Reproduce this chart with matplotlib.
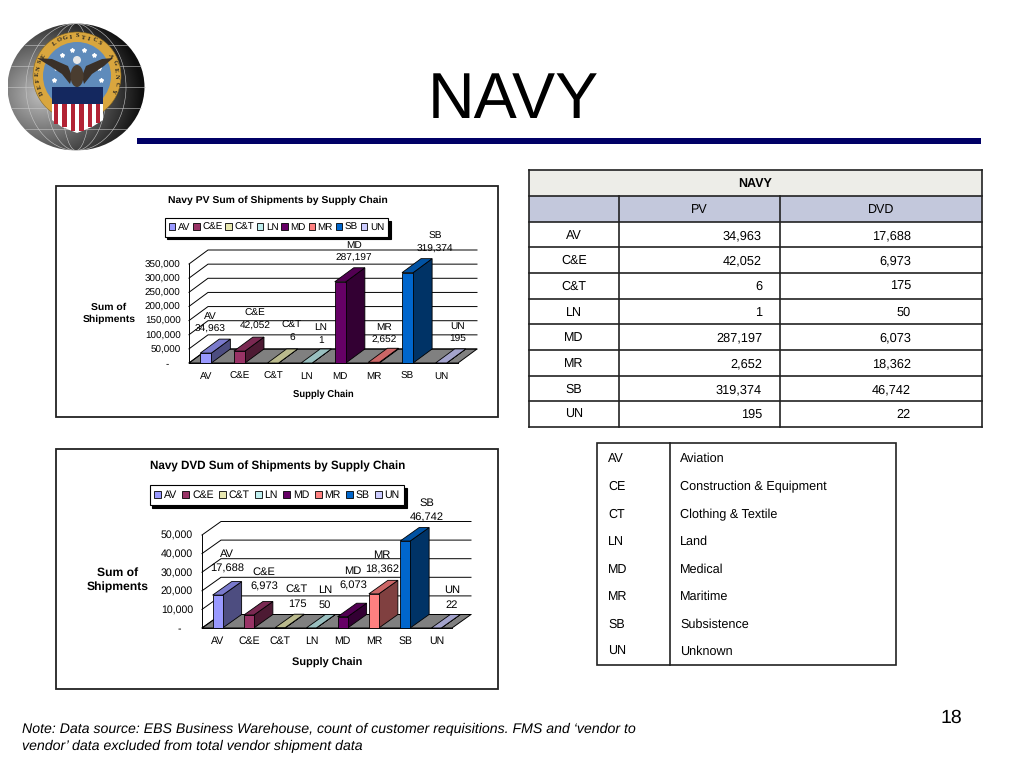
import numpy as np
import matplotlib
matplotlib.use("Agg")
import matplotlib.pyplot as plt
from matplotlib.colors import to_rgb
from matplotlib.patches import Circle, Ellipse, Polygon, Rectangle

plt.rcParams['font.family'] = ['Liberation Sans', 'DejaVu Sans']
plt.rcParams['text.hinting'] = 'no_hinting'

categories = ["AV", "C&E", "C&T", "LN", "MD", "MR", "SB", "UN"]
pv_values = [34963, 42052, 6, 1, 287197, 2652, 319374, 195]
dvd_values = [17688, 6973, 175, 50, 6073, 18362, 46742, 22]
pv_ticks = [0, 50000, 100000, 150000, 200000, 250000, 300000, 350000]
dvd_ticks = [0, 10000, 20000, 30000, 40000, 50000]
bar_colors = ["#9999FF", "#993366", "#E8E8B0", "#BFEFEF", "#660066", "#FF8080", "#0066CC", "#CCCCFF"]

legend_codes = ["AV", "CE", "CT", "LN", "MD", "MR", "SB", "UN"]
legend_names = ["Aviation", "Construction & Equipment", "Clothing & Textile", "Land",
                "Medical", "Maritime", "Subsistence", "Unknown"]

# label spots, in slide pixels
pv_label_xy = [(210, 316), (255, 313), (292, 325), (321, 327), (354, 245), (384, 327), (435, 236), (458, 326)]
dvd_label_xy = [(227, 554), (264, 572), (297, 589), (325, 590), (353, 571), (382, 555), (427, 503), (452, 590)]

fig = plt.figure(figsize=(10.24, 7.68), dpi=100)
slide = fig.add_axes([0, 0, 1, 1])
slide.set_axis_off()


def shade(color, k):
    return tuple(c * k for c in to_rgb(color))


def fmt(v):
    return f"{v:,}"


# The seal in the top left corner
def draw_logo():
    cx, cy, rx, ry = 76, 87, 68.5, 63.5
    yy, xx = np.mgrid[cy - ry:cy + ry + 1, cx - rx:cx + rx + 1]
    d = np.hypot(xx - (cx - 34), (yy - (cy + 8)) * 1.1) / (2 * rx)
    img = slide.imshow(np.clip(0.75 - 0.95 * d, 0.06, 1), cmap="gray", vmin=0, vmax=1, aspect="auto",
                       extent=(cx - rx, cx + rx, cy + ry, cy - ry), zorder=1)
    img.set_clip_path(Ellipse((cx, cy), 2 * rx, 2 * ry, transform=slide.transData))
    for w in [30, 62, 100]:
        slide.add_patch(Ellipse((cx, cy), w, 2 * ry, fc="none", ec="#c8c8c8", lw=0.4, zorder=2))
    for dy in [-42, -21, 0, 21, 42]:
        half = rx * np.sqrt(1 - (dy / ry) ** 2)
        slide.plot([cx - half, cx + half], [cy + dy, cy + dy], color="#c8c8c8", lw=0.4, zorder=2)

    sx, sy = 77, 76
    slide.add_patch(Circle((sx, sy), 44, fc="#D9A63E", ec="#8a6a20", lw=0.4, zorder=3))
    slide.add_patch(Circle((sx, sy), 34, fc="#5F8BBB", ec="none", zorder=4))
    for px, py in [(62, 55), (72, 50), (84, 50), (94, 55), (56, 68), (99, 68), (54, 80), (101, 80)]:
        slide.plot(px, py, marker="*", ms=3, color="white", zorder=5)

    # eagle
    slide.add_patch(Polygon([(37, 58), (52, 59), (68, 66), (72, 76), (70, 84), (62, 74), (50, 66)],
                            fc="#3a3028", ec="none", zorder=6))
    slide.add_patch(Polygon([(113, 58), (102, 59), (86, 66), (82, 76), (84, 84), (92, 74), (104, 66)],
                            fc="#3a3028", ec="none", zorder=6))
    slide.add_patch(Ellipse((77, 76), 13, 22, fc="#4a3d30", ec="none", zorder=6))
    slide.add_patch(Circle((77, 60), 4, fc="#e8e8e8", ec="none", zorder=7))

    # shield
    slide.add_patch(Rectangle((52, 87), 51, 17, fc="#14285F", ec="none", zorder=8))
    slide.add_patch(Polygon([(52, 104), (103, 104), (103, 120), (92, 127), (77, 133), (62, 127), (52, 120)],
                            fc="white", ec="none", zorder=8))
    for i in range(6):
        left = 54 + i * 8.4
        low = 133 - abs(left + 2.2 - 77) * 0.45
        slide.add_patch(Rectangle((left, 104), 4.4, low - 104, fc="#B22234", ec="none", zorder=9))

    # lettering round the ring
    for word, a0, a1 in [("DEFENSE", 205, 150), ("LOGISTICS", 125, 55), ("AGENCY", 30, -22)]:
        for ch, a in zip(word, np.linspace(a0, a1, len(word))):
            ang = np.radians(a)
            slide.text(sx + 39 * np.cos(ang), sy - 39 * np.sin(ang), ch, fontsize=4.6, weight="bold",
                       family="Liberation Serif", rotation=a - 90, ha="center", va="center",
                       color="#222222", zorder=10)


# One fake-3D column chart, the axes covers the front face of the plot
def draw_chart(frame, plot_box, depth_px, values, ticks, title, title_xy, label_xy, legend_xy,
               xlabel_xy, ylabel_xy, font, label_font, title_font, xlabel_font, ylabel_font, label_gap,
               bar_frac, tick_pad, x_pad, zero_pad, col_gap):
    fx0, fy0, fx1, fy1 = frame
    slide.add_patch(Rectangle((fx0, fy0), fx1 - fx0, fy1 - fy0, fc="white", ec="#222222", lw=1.3, zorder=1))
    slide.text(*title_xy, title, fontsize=title_font, weight="bold", ha="center", va="center", zorder=2)
    slide.text(*xlabel_xy, "Supply Chain", fontsize=xlabel_font, weight="bold", ha="center", va="center", zorder=2)
    slide.text(*ylabel_xy, "Sum of\nShipments", fontsize=ylabel_font, weight="bold", ha="center", va="center",
               linespacing=1.4, zorder=2)

    px0, py0, px1, py1 = plot_box
    ax = fig.add_axes([px0 / 1024, 1 - py1 / 768, (px1 - px0) / 1024, (py1 - py0) / 768])
    ax.patch.set_alpha(0)
    n = len(values)
    top = ticks[-1]
    ax.set_xlim(0, n)
    ax.set_ylim(0, top)
    dx = depth_px[0] / ((px1 - px0) / n)
    dy = depth_px[1] / (py1 - py0) * top

    # floor and wall
    ax.add_patch(Polygon([(0, 0), (n, 0), (n + dx, dy), (dx, dy)], fc="#808080", ec="black", lw=0.7,
                         clip_on=False, zorder=1))
    for t in ticks:
        ax.plot([0, dx, n + dx], [t, t + dy, t + dy], color="black", lw=0.7, clip_on=False, zorder=1)

    # bars, left to right
    for i, (v, col) in enumerate(zip(values, bar_colors)):
        x0 = i + 0.5 - bar_frac / 2
        x1 = i + 0.5 + bar_frac / 2
        ax.add_patch(Polygon([(x1, 0), (x1 + dx, dy), (x1 + dx, v + dy), (x1, v)], fc=shade(col, 0.5),
                             ec="black", lw=0.6, clip_on=False, zorder=3))
        ax.add_patch(Polygon([(x0, v), (x1, v), (x1 + dx, v + dy), (x0 + dx, v + dy)], fc=shade(col, 0.8),
                             ec="black", lw=0.6, clip_on=False, zorder=3))
        ax.bar(i + 0.5, v, width=bar_frac, color=col, edgecolor="black", linewidth=0.6, zorder=3, clip_on=False)

    ax.set_xticks(np.arange(n) + 0.5, categories)
    ax.set_yticks(ticks, [("-" + zero_pad) if t == 0 else fmt(t) for t in ticks])
    ax.tick_params(axis="x", length=0, pad=x_pad, labelsize=font)
    ax.tick_params(axis="y", length=0, pad=tick_pad, labelsize=font)
    for side in ["top", "right"]:
        ax.spines[side].set_visible(False)
    ax.spines["left"].set_linewidth(0.7)
    ax.spines["bottom"].set_linewidth(0.7)

    # data labels: category above the value
    for cat, v, (lx, ly) in zip(categories, values, label_xy):
        ax.text(lx, ly, cat, transform=slide.transData, fontsize=label_font, ha="center", va="center",
                clip_on=False, zorder=6)
        ax.text(lx, ly + label_gap, fmt(v), transform=slide.transData, fontsize=label_font, ha="center",
                va="center", clip_on=False, zorder=6)

    handles = [Rectangle((0, 0), 1, 1, fc=c, ec="black", lw=0.6) for c in bar_colors]
    leg = ax.legend(handles, categories, ncols=8, loc="center", bbox_to_anchor=legend_xy,
                    bbox_transform=slide.transData, fontsize=font, frameon=True, fancybox=False,
                    shadow={"color": "black", "alpha": 1, "ox": 2, "oy": -2}, edgecolor="black", framealpha=1,
                    handlelength=0.65, handleheight=0.65, handletextpad=0.25, columnspacing=col_gap,
                    borderpad=0.45, borderaxespad=0)
    leg.get_frame().set_linewidth(0.8)
    leg.set_zorder(8)


# Data table on the right
def draw_table():
    xs = [529, 619, 780, 982]
    ys = [170, 196, 222, 247, 273, 299, 324, 350, 376, 401, 427]
    slide.add_patch(Rectangle((xs[0], ys[0]), xs[3] - xs[0], ys[1] - ys[0], fc="#EDEDE8", ec="none", zorder=1))
    slide.add_patch(Rectangle((xs[0], ys[1]), xs[3] - xs[0], ys[2] - ys[1], fc="#C3C8DC", ec="none", zorder=1))
    for y in ys:
        slide.plot([xs[0], xs[3]], [y, y], color="#222222", lw=1.2, zorder=2, solid_capstyle="projecting")
    slide.plot([xs[0], xs[0]], [ys[0], ys[-1]], color="#222222", lw=1.2, zorder=2)
    slide.plot([xs[3], xs[3]], [ys[0], ys[-1]], color="#222222", lw=1.2, zorder=2)
    for x in xs[1:3]:
        slide.plot([x, x], [ys[1], ys[-1]], color="#222222", lw=1.2, zorder=2)
    slide.text((xs[0] + xs[3]) / 2, 184, "NAVY", fontsize=9, weight="bold", ha="center", va="center", zorder=3)
    slide.text(699, 210, "PV", fontsize=9, ha="center", va="center", zorder=3)
    slide.text(881, 210, "DVD", fontsize=9, ha="center", va="center", zorder=3)
    for i, cat in enumerate(categories):
        ym = (ys[i + 2] + ys[i + 3]) / 2 + 1
        slide.text(574, ym, cat, fontsize=9, ha="center", va="center", zorder=3)
        slide.text(762, ym, fmt(pv_values[i]), fontsize=9.2, ha="right", va="center", zorder=3)
        slide.text(911, ym, fmt(dvd_values[i]), fontsize=9.2, ha="right", va="center", zorder=3)


# Key for the supply chain codes
def draw_key():
    slide.add_patch(Rectangle((597, 443), 299, 222, fc="white", ec="#222222", lw=1.2, zorder=1))
    slide.plot([670, 670], [443, 665], color="#222222", lw=1.2, zorder=2)
    rows = [459, 487, 515, 542, 570, 597, 625, 652]
    for code, name, y in zip(legend_codes, legend_names, rows):
        slide.text(608, y, code, fontsize=9, ha="left", va="center", zorder=3)
        slide.text(680, y, name, fontsize=9.1, ha="left", va="center", zorder=3)


draw_logo()
slide.text(513.5, 118.3, "NAVY", fontsize=46.5, ha="center", va="baseline", color="black", zorder=3)
slide.add_patch(Rectangle((137, 138), 844, 6, fc="#000066", ec="none", zorder=3))

draw_chart((56, 186, 498, 417), (189, 264, 458, 363), (19, 14), pv_values, pv_ticks,
           "Navy PV Sum of Shipments by Supply Chain", (278, 200), pv_label_xy, (276.5, 227.5),
           (323, 394), (109, 313), 7.1, 7.3, 7.45, 6.85, 7.5, 13.5, 0.33, 6, 6, "    ", 0.3)
draw_chart((56, 449, 498, 689), (202, 535, 452, 628), (19, 13.5), dvd_values, dvd_ticks,
           "Navy DVD Sum of Shipments by Supply Chain", (277.5, 466), dvd_label_xy, (277, 495),
           (327, 663), (118, 580), 7.6, 8, 8.35, 7.95, 8.7, 15, 0.32, 6.5, 6, "    ", 0.52)

draw_table()
draw_key()

slide.text(951, 718, "18", fontsize=14, ha="center", va="center", zorder=3)
slide.text(22, 729.5, "Note: Data source: EBS Business Warehouse, count of customer requisitions. FMS and \u2018vendor to",
           fontsize=10.2, style="italic", ha="left", va="center", zorder=3)
slide.text(22, 746.5, "vendor\u2019 data excluded from total vendor shipment data",
           fontsize=10.2, style="italic", ha="left", va="center", zorder=3)

slide.set_xlim(0, 1024)
slide.set_ylim(768, 0)

fig.savefig("out.png", dpi=100)
